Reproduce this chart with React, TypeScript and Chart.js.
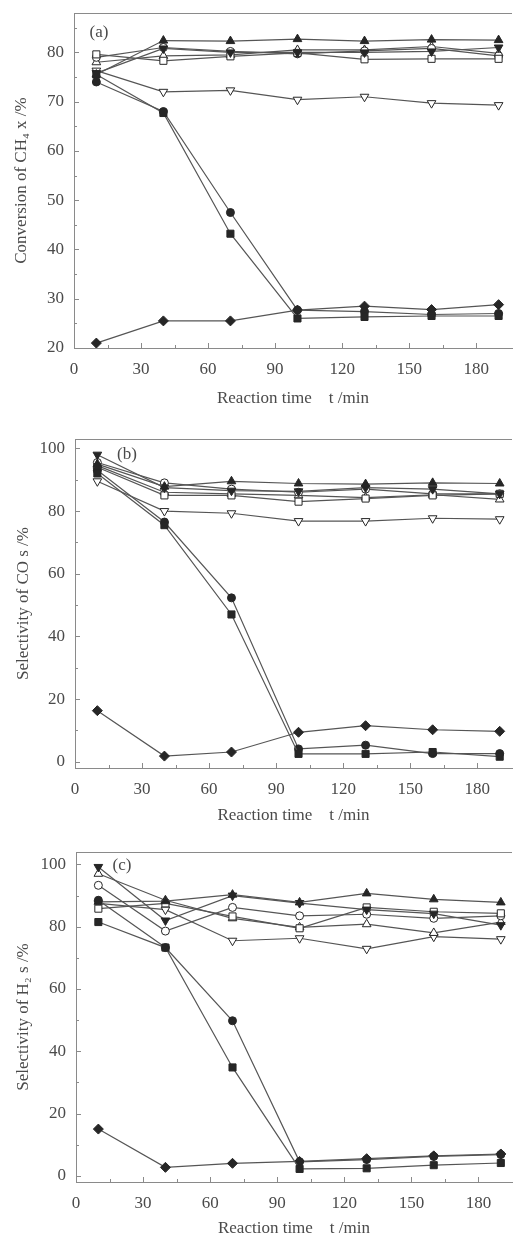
import React, { useEffect, useRef } from 'react';
import { Chart, registerables } from 'chart.js';

Chart.register(...registerables);

// ---- data ----
const times = [10, 40, 70, 100, 130, 160, 190];

// panel (a): conversion of CH4
const aSquareFilled = [75.5, 67.7, 43.2, 26.0, 26.3, 26.5, 26.5];
const aCircleFilled = [74.0, 68.0, 47.5, 27.7, 27.4, 26.8, 27.0];
const aTriUpFilled = [75.5, 82.4, 82.3, 82.7, 82.3, 82.6, 82.5];
const aTriDownFilled = [75.8, 80.8, 80.0, 80.0, 80.0, 80.2, 81.0];
const aDiamondFilled = [21.0, 25.5, 25.5, 27.7, 28.5, 27.8, 28.8];
const aSquareOpen = [79.6, 78.3, 79.2, 79.9, 78.6, 78.7, 78.7];
const aCircleOpen = [79.0, 81.0, 80.2, 79.7, 80.3, 80.8, 79.3];
const aTriUpOpen = [78.0, 79.3, 79.5, 80.5, 80.5, 81.2, 79.8];
const aTriDownOpen = [76.3, 72.0, 72.3, 70.4, 71.0, 69.7, 69.3];

// panel (b): selectivity of CO
const bSquareFilled = [92.0, 75.5, 47.0, 2.5, 2.5, 3.1, 1.6];
const bCircleFilled = [93.0, 76.5, 52.3, 4.1, 5.3, 2.6, 2.6];
const bTriUpFilled = [95.0, 87.8, 89.5, 88.8, 88.6, 89.0, 88.8];
const bTriDownFilled = [98.0, 87.5, 86.5, 86.3, 87.5, 87.0, 85.5];
const bDiamondFilled = [16.3, 1.8, 3.1, 9.4, 11.5, 10.2, 9.7];
const bSquareOpen = [94.0, 85.0, 85.0, 83.0, 84.0, 85.0, 85.5];
const bCircleOpen = [95.5, 89.0, 87.0, 86.0, 87.0, 85.5, 85.5];
const bTriUpOpen = [94.5, 86.0, 85.5, 85.0, 84.3, 85.2, 83.7];
const bTriDownOpen = [89.5, 80.0, 79.3, 76.8, 76.8, 77.7, 77.4];

// panel (c): selectivity of H2
const cSquareFilled = [81.5, 73.3, 34.8, 2.2, 2.4, 3.4, 4.1];
const cCircleFilled = [88.5, 73.3, 49.8, 4.5, 5.2, 6.2, 6.8];
const cTriUpFilled = [88.0, 88.2, 90.3, 87.8, 90.7, 88.8, 87.8];
const cTriDownFilled = [99.2, 82.0, 90.0, 87.6, 85.5, 84.2, 80.5];
const cDiamondFilled = [15.0, 2.7, 4.0, 4.6, 5.5, 6.4, 7.0];
const cSquareOpen = [85.8, 87.5, 83.3, 79.5, 86.2, 84.8, 84.3];
const cCircleOpen = [93.3, 78.6, 86.2, 83.5, 84.0, 82.7, 83.5];
const cTriUpOpen = [97.0, 88.5, 82.7, 79.8, 80.8, 78.0, 81.5];
const cTriDownOpen = [87.5, 85.5, 75.5, 76.3, 72.9, 76.8, 76.0];

// ticks
const xMajorTicks = [0, 30, 60, 90, 120, 150, 180];
const xMinorTicks = [15, 45, 75, 105, 135, 165];
const aYMajorTicks = [20, 30, 40, 50, 60, 70, 80];
const aYMinorTicks = [25, 35, 45, 55, 65, 75, 85];
const bcYMajorTicks = [0, 20, 40, 60, 80, 100];
const bcYMinorTicks = [10, 30, 50, 70, 90];

const xTitle = 'Reaction time    t /min';

// ---- styles ----
const FONT = "'Liberation Serif', 'Times New Roman', serif";
const TEXT = '#4a4a4a';
const AXIS = '#8a8a8a';
const LINE = '#555555';
const MARK = '#262626';

const markerStyles = [
  { pointStyle: 'rect', filled: true, r: 5, rot: 0 },
  { pointStyle: 'circle', filled: true, r: 4, rot: 0 },
  { pointStyle: 'triangle', filled: true, r: 5, rot: 0 },
  { pointStyle: 'triangle', filled: true, r: 5, rot: 180 },
  { pointStyle: 'rectRot', filled: true, r: 5, rot: 0 },
  { pointStyle: 'rect', filled: false, r: 5, rot: 0 },
  { pointStyle: 'circle', filled: false, r: 4, rot: 0 },
  { pointStyle: 'triangle', filled: false, r: 5, rot: 0 },
  { pointStyle: 'triangle', filled: false, r: 5, rot: 180 },
];

const panels = [
  {
    label: '(a)', yTitle: 'Conversion of CH\u2084 x /%',
    series: [aSquareFilled, aCircleFilled, aTriUpFilled, aTriDownFilled, aDiamondFilled, aSquareOpen, aCircleOpen, aTriUpOpen, aTriDownOpen],
    yMajor: aYMajorTicks, yMinor: aYMinorTicks, yMin: 20, yMax: 88, xMax: 196,
    top: 0, height: 413, left: 74, plotTop: 13, plotBottom: 348,
    yTitlePad: 11, xTitlePad: 4, labelDx: 25, labelDy: 20,
  },
  {
    label: '(b)', yTitle: 'Selectivity of CO s /%',
    series: [bSquareFilled, bCircleFilled, bTriUpFilled, bTriDownFilled, bDiamondFilled, bSquareOpen, bCircleOpen, bTriUpOpen, bTriDownOpen],
    yMajor: bcYMajorTicks, yMinor: bcYMinorTicks, yMin: -2, yMax: 103, xMax: 195.5,
    top: 413, height: 413, left: 75, plotTop: 26, plotBottom: 355,
    yTitlePad: 13, xTitlePad: 0, labelDx: 52, labelDy: 16,
  },
  {
    label: '(c)', yTitle: 'Selectivity of H\u2082 s /%',
    series: [cSquareFilled, cCircleFilled, cTriUpFilled, cTriDownFilled, cDiamondFilled, cSquareOpen, cCircleOpen, cTriUpOpen, cTriDownOpen],
    yMajor: bcYMajorTicks, yMinor: bcYMinorTicks, yMin: -2, yMax: 104, xMax: 195,
    top: 826, height: 413, left: 76, plotTop: 26, plotBottom: 356,
    yTitlePad: 13, xTitlePad: 0, labelDx: 46, labelDy: 14,
  },
];

const axisDecor = {
  id: 'axisDecor',
  afterDraw(chart: any, _args: any, opts: any) {
    const { ctx, chartArea } = chart;
    const { left, right, top, bottom } = chartArea;
    const xs = chart.scales.x;
    const ys = chart.scales.y;
    ctx.save();
    ctx.strokeStyle = AXIS;
    ctx.lineWidth = 1;
    ctx.beginPath();
    ctx.moveTo(left, Math.round(top) + 0.5);
    ctx.lineTo(right, Math.round(top) + 0.5);
    const drawX = (v: number, len: number) => {
      const px = Math.round(xs.getPixelForValue(v)) + 0.5;
      ctx.moveTo(px, bottom);
      ctx.lineTo(px, bottom - len);
    };
    const drawY = (v: number, len: number) => {
      const py = Math.round(ys.getPixelForValue(v)) + 0.5;
      ctx.moveTo(left, py);
      ctx.lineTo(left + len, py);
    };
    opts.xMajor.forEach((v: number) => drawX(v, 5));
    opts.xMinor.forEach((v: number) => drawX(v, 3));
    opts.yMajor.forEach((v: number) => drawY(v, 5));
    opts.yMinor.forEach((v: number) => drawY(v, 3));
    ctx.stroke();
    ctx.fillStyle = TEXT;
    ctx.font = `17px ${FONT}`;
    ctx.textAlign = 'center';
    ctx.textBaseline = 'middle';
    ctx.fillText(opts.label, left + opts.dx, top + opts.dy);
    ctx.restore();
  },
};

function Panel({ cfg }: { cfg: any }) {
  const ref = useRef<HTMLCanvasElement>(null);
  useEffect(() => {
    const datasets = cfg.series.map((vals: number[], i: number) => {
      const m = markerStyles[i];
      return {
        label: `s${i}`,
        data: times.map((t, j) => ({ x: t, y: vals[j] })),
        borderColor: LINE,
        borderWidth: 1.2,
        pointStyle: m.pointStyle,
        pointRotation: m.rot,
        pointRadius: m.r,
        pointBackgroundColor: m.filled ? MARK : '#ffffff',
        pointBorderColor: MARK,
        pointBorderWidth: 1,
        fill: false,
        tension: 0,
      };
    });
    const chart = new Chart(ref.current as HTMLCanvasElement, {
      type: 'line',
      data: { datasets },
      plugins: [axisDecor as any],
      options: {
        animation: false,
        responsive: false,
        devicePixelRatio: 1,
        layout: { padding: { left: 0, top: cfg.plotTop, right: 0, bottom: 0 } },
        plugins: {
          legend: { display: false },
          tooltip: { enabled: false },
          axisDecor: {
            xMajor: xMajorTicks, xMinor: xMinorTicks,
            yMajor: cfg.yMajor, yMinor: cfg.yMinor,
            label: cfg.label, dx: cfg.labelDx, dy: cfg.labelDy,
          },
        } as any,
        scales: {
          x: {
            type: 'linear',
            min: 0,
            max: cfg.xMax,
            afterBuildTicks: (s: any) => { s.ticks = xMajorTicks.map((v) => ({ value: v })); },
            afterFit: (s: any) => {
              s.height = cfg.height - cfg.plotBottom;
              s.paddingLeft = 0; s.paddingRight = 0; s.paddingTop = 0; s.paddingBottom = 0;
            },
            grid: { display: false, drawTicks: false },
            border: { display: true, color: AXIS, width: 1 },
            ticks: { padding: 11, color: TEXT, font: { family: FONT, size: 17 }, maxRotation: 0, autoSkip: false },
            title: { display: true, text: xTitle, color: TEXT, font: { family: FONT, size: 17 }, padding: { top: 0, bottom: cfg.xTitlePad } },
          },
          y: {
            type: 'linear',
            min: cfg.yMin,
            max: cfg.yMax,
            afterBuildTicks: (s: any) => { s.ticks = cfg.yMajor.map((v: number) => ({ value: v })); },
            afterFit: (s: any) => {
              s.width = cfg.left;
              s.paddingLeft = 0; s.paddingRight = 0; s.paddingTop = 0; s.paddingBottom = 0;
            },
            grid: { display: false, drawTicks: false },
            border: { display: true, color: AXIS, width: 1 },
            ticks: { padding: 10, color: TEXT, font: { family: FONT, size: 17 }, autoSkip: false },
            title: { display: true, text: cfg.yTitle, color: TEXT, font: { family: FONT, size: 17 }, padding: { top: cfg.yTitlePad, bottom: 0 } },
          },
        } as any,
      },
    } as any);
    return () => chart.destroy();
  }, []);
  return (
    <canvas
      ref={ref}
      width={518}
      height={cfg.height}
      style={{ position: 'absolute', left: 0, top: cfg.top, width: 518, height: cfg.height, display: 'block' }}
    />
  );
}

export default function App() {
  return (
    <div style={{ position: 'absolute', left: 0, top: 0, width: 518, height: 1239, background: '#ffffff' }}>
      {panels.map((p) => (
        <Panel key={p.label} cfg={p} />
      ))}
    </div>
  );
}
